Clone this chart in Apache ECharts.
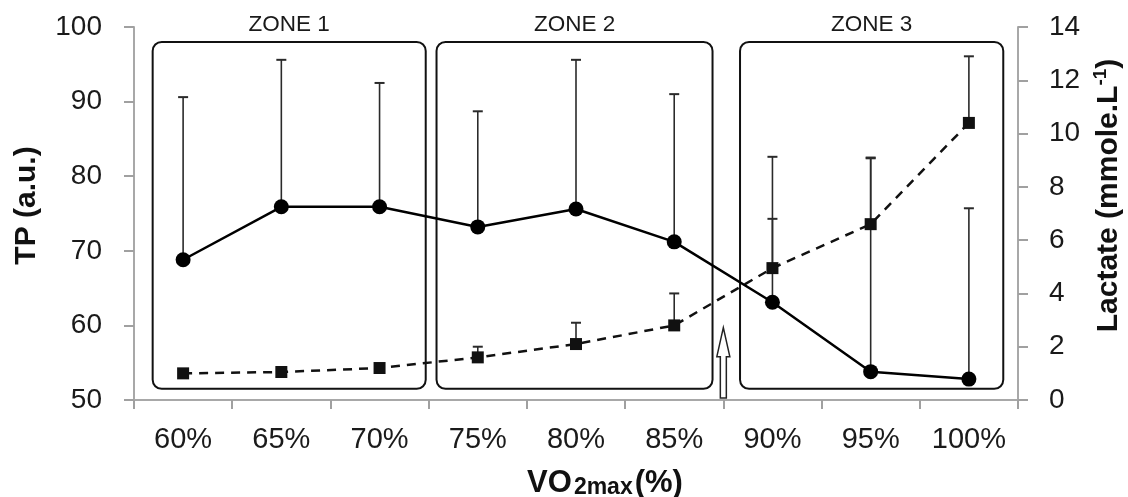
<!DOCTYPE html>
<html>
<head>
<meta charset="utf-8">
<script src="https://cdn.jsdelivr.net/npm/echarts@6/dist/echarts.min.js"></script>
<style>
html,body{margin:0;padding:0;background:#fff;}
#chart{width:1128px;height:497px;}
</style>
</head>
<body>
<div id="chart"></div>
<script>
// ---- data ----
const categories = ['60%', '65%', '70%', '75%', '80%', '85%', '90%', '95%', '100%'];
const tpMean  = [68.8, 75.9, 75.9, 73.2, 75.6, 71.2, 63.1, 53.8, 52.8];
const tpUpper = [90.6, 95.6, 92.5, 88.7, 95.6, 91.0, 82.6, 82.4, 75.7];
const lactateMean  = [1.0, 1.05, 1.2, 1.6, 2.1, 2.8, 4.95, 6.6, 10.4];
const lactateUpper = [1.1, 1.15, 1.3, 2.0, 2.9, 4.0, 6.8, 9.1, 12.9];
const zoneLabels = ['ZONE 1', 'ZONE 2', 'ZONE 3'];
const zoneFirst = [0, 3, 6];
const zoneLast  = [2, 5, 8];
const zoneTop = 98.0, zoneBottom = 51.5;      // TP units
const thresholdAfter = 5;                      // arrow between 85% and 90%
const arrowFrom = 50, arrowTo = 59.7;          // TP units
const tpTicks = [50, 60, 70, 80, 90, 100];
const lactateTicks = [0, 2, 4, 6, 8, 10, 12, 14];

// ---- layout/style constants ----
const FONT = '"Liberation Sans", Arial, sans-serif';
const zoneInset = [[0.19, 0.03], [0.08, 0.11], [0.17, 0.15]]; // fraction of band from category boundaries

const chart = echarts.init(document.getElementById('chart'), null, {renderer: 'canvas'});

function errRender(params, api) {
  const x = api.value(0);
  const lo = api.coord([x, api.value(1)]);
  const hi = api.coord([x, api.value(2)]);
  const w = 5;
  return {
    type: 'group',
    children: [
      {type: 'line', shape: {x1: lo[0], y1: lo[1], x2: hi[0], y2: hi[1]}, style: {stroke: '#2a2a2a', lineWidth: 1.6}},
      {type: 'line', shape: {x1: hi[0] - w, y1: hi[1], x2: hi[0] + w, y2: hi[1]}, style: {stroke: '#2a2a2a', lineWidth: 2}}
    ]
  };
}

function zoneRender(params, api) {
  const i = params.dataIndex;
  const band = api.size([1, 0])[0];
  const a = api.coord([api.value(0), api.value(2)]);
  const b = api.coord([api.value(1), api.value(3)]);
  const left = a[0] - band / 2 + zoneInset[i][0] * band;
  const right = b[0] + band / 2 - zoneInset[i][1] * band;
  const top = a[1], bottom = b[1];
  return {
    type: 'group',
    children: [
      {type: 'rect', shape: {x: left, y: top, width: right - left, height: bottom - top, r: 9},
       style: {fill: 'none', stroke: '#111', lineWidth: 2}},
      {type: 'text', x: (left + right) / 2, y: top - 17,
       style: {text: zoneLabels[i], fill: '#1a1a1a', font: '22.5px ' + FONT, align: 'center', verticalAlign: 'middle'}}
    ]
  };
}

function arrowRender(params, api) {
  const band = api.size([1, 0])[0];
  const base = api.coord([api.value(0), api.value(1)]);
  const tip = api.coord([api.value(0), api.value(2)]);
  const x = base[0] + band / 2;
  const yb = base[1] - 2, yt = tip[1];
  const hw = 6.5, sw = 3, hh = 29;
  return {
    type: 'polygon',
    shape: {points: [[x, yt], [x + hw, yt + hh], [x + sw, yt + hh], [x + sw, yb], [x - sw, yb], [x - sw, yt + hh], [x - hw, yt + hh]]},
    style: {fill: '#fff', stroke: '#222', lineWidth: 1.5}
  };
}

const option = {
  backgroundColor: '#fff',
  animation: false,
  grid: {left: 134, right: 110, top: 27, bottom: 97, containLabel: false, outerBoundsMode: 'none'},
  xAxis: {
    type: 'category',
    data: categories,
    boundaryGap: true,
    name: '{a|VO}{b|2max}{a|(%)}',
    nameLocation: 'middle',
    nameGap: 67,
    nameTextStyle: {
      padding: [0, 0, 0, 58],
      rich: {
        a: {fontSize: 31, fontWeight: 'bold', fontFamily: FONT, color: '#111'},
        b: {fontSize: 23, fontWeight: 'bold', fontFamily: FONT, color: '#111', padding: [9, 2, 0, 2]}
      }
    },
    axisLine: {lineStyle: {color: '#a8a8a8', width: 2}},
    axisTick: {show: true, length: 9, lineStyle: {color: '#a0a0a0', width: 2}},
    axisLabel: {fontFamily: FONT, fontSize: 29, color: '#1a1a1a', margin: 25}
  },
  yAxis: [
    {
      type: 'value', min: 50, max: 100, interval: 10, position: 'left',
      name: 'TP (a.u.)', nameLocation: 'middle', nameGap: 92, nameRotate: 90,
      nameTextStyle: {fontFamily: FONT, fontSize: 30, fontWeight: 'bold', color: '#111', padding: [0, 0, 0, 16]},
      axisLine: {show: true, lineStyle: {color: '#a8a8a8', width: 2}},
      axisTick: {show: true, length: 10, lineStyle: {color: '#a0a0a0', width: 2}},
      axisLabel: {fontFamily: FONT, fontSize: 28, color: '#1a1a1a', margin: 32,
        formatter: v => tpTicks.includes(v) ? String(v) : ''},
      splitLine: {show: false}
    },
    {
      type: 'value', min: 0, max: 14, interval: 2, position: 'right',
      name: 'Lactate (mmole.L{sup|-1})', nameLocation: 'middle', nameGap: 71, nameRotate: 90,
      nameTextStyle: {fontFamily: FONT, fontSize: 30, fontWeight: 'bold', color: '#111', padding: [0, 0, 0, 36],
        rich: {sup: {fontFamily: FONT, fontSize: 19, fontWeight: 'bold', color: '#111', padding: [0, 0, 16, 0]}}},
      axisLine: {show: true, lineStyle: {color: '#a8a8a8', width: 2}},
      axisTick: {show: true, length: 10, lineStyle: {color: '#a0a0a0', width: 2}},
      axisLabel: {fontFamily: FONT, fontSize: 28, color: '#1a1a1a', margin: 31,
        formatter: v => lactateTicks.includes(v) ? String(v) : ''},
      splitLine: {show: false}
    }
  ],
  series: [
    {
      type: 'custom', name: 'zones', xAxisIndex: 0, yAxisIndex: 0, z: 1,
      renderItem: zoneRender,
      encode: {x: [0, 1], y: [2, 3]},
      data: zoneFirst.map((f, i) => [f, zoneLast[i], zoneTop, zoneBottom])
    },
    {
      type: 'custom', name: 'arrow', xAxisIndex: 0, yAxisIndex: 0, z: 2,
      renderItem: arrowRender,
      encode: {x: 0, y: [1, 2]},
      data: [[thresholdAfter, arrowFrom, arrowTo]]
    },
    {
      type: 'custom', name: 'tpErr', xAxisIndex: 0, yAxisIndex: 0, z: 3,
      renderItem: errRender,
      encode: {x: 0, y: [1, 2]},
      data: tpMean.map((m, i) => [i, m, tpUpper[i]])
    },
    {
      type: 'custom', name: 'lacErr', xAxisIndex: 0, yAxisIndex: 1, z: 3,
      renderItem: errRender,
      encode: {x: 0, y: [1, 2]},
      data: lactateMean.map((m, i) => [i, m, lactateUpper[i]])
    },
    {
      type: 'line', name: 'Lactate', yAxisIndex: 1, z: 4,
      data: lactateMean,
      symbol: 'rect', symbolSize: 12,
      itemStyle: {color: '#111'},
      lineStyle: {color: '#111', width: 2.5, type: [9, 7]}
    },
    {
      type: 'line', name: 'TP', yAxisIndex: 0, z: 5,
      data: tpMean,
      symbol: 'circle', symbolSize: 15,
      itemStyle: {color: '#000'},
      lineStyle: {color: '#000', width: 2.5}
    }
  ]
};
chart.setOption(option);
</script>
</body>
</html>
